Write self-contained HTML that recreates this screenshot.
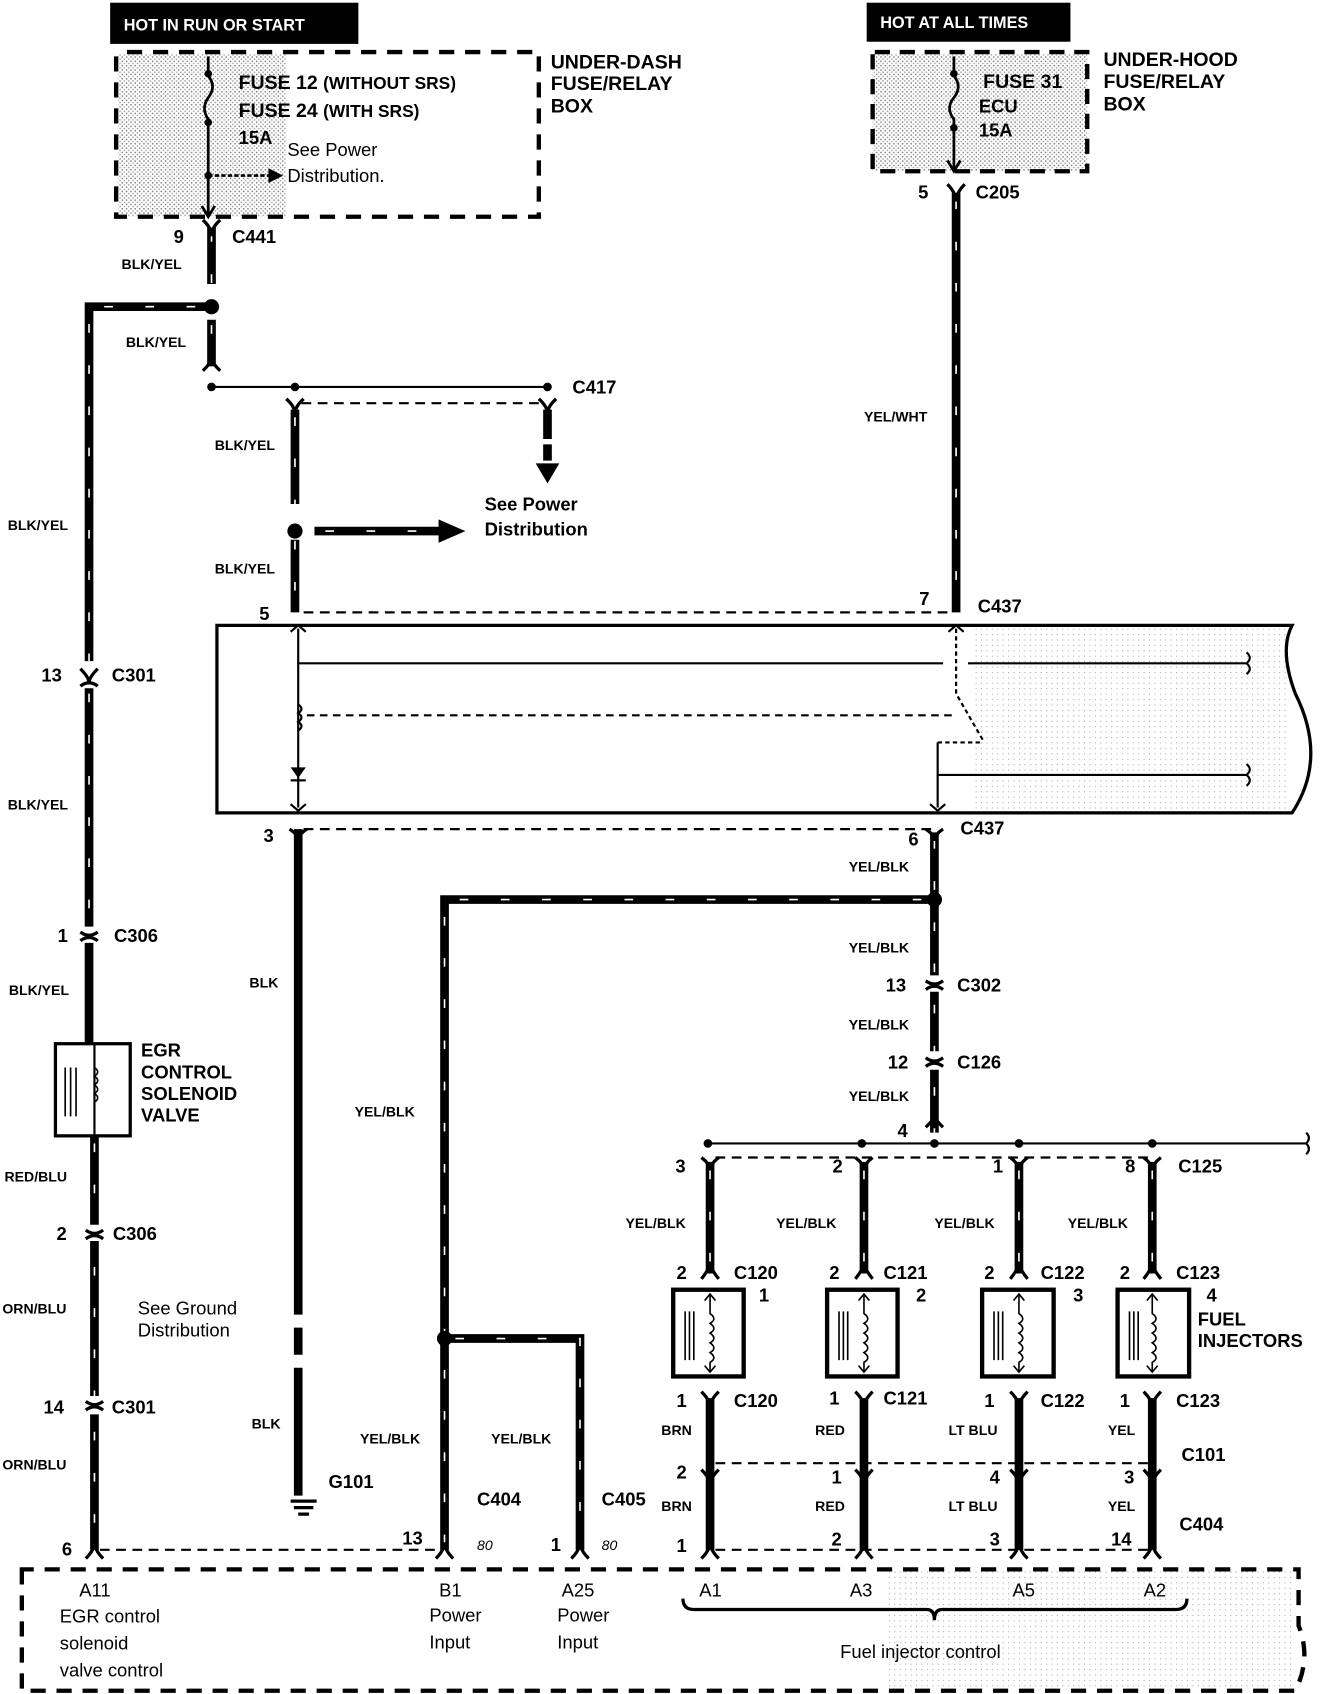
<!DOCTYPE html>
<html><head><meta charset="utf-8"><style>
html,body{margin:0;padding:0;background:#fff;}
svg{display:block;}
text{font-family:"Liberation Sans",sans-serif;font-weight:bold;fill:#000;}
.s{font-size:13px;}
.m{font-size:17px;}
.l{font-size:18px;}
</style></head><body>
<svg width="1328" height="1694" viewBox="0 0 1225 1563" xmlns="http://www.w3.org/2000/svg">
<defs>
<pattern id="dots" width="4" height="4" patternUnits="userSpaceOnUse"><rect width="4" height="4" fill="#fff"/><rect width="1.3" height="1.3" fill="#777"/><rect x="2" y="2" width="1.3" height="1.3" fill="#999"/></pattern>
<pattern id="dots2" width="5" height="5" patternUnits="userSpaceOnUse"><rect width="5" height="5" fill="#fff"/><rect width="1" height="1" fill="#aaa"/></pattern>
</defs>
<g fill="none" stroke="#000">
<rect x="102" y="3" width="228" height="37" fill="#000"/>
<rect x="800" y="3" width="187" height="35" fill="#000"/>
<rect x="109" y="50" width="155" height="150" fill="url(#dots)" stroke="none"/>
<rect x="805" y="50" width="198" height="108" fill="url(#dots)" stroke="none"/>
<rect x="900" y="580" width="290" height="168" fill="url(#dots2)" stroke="none"/>
<rect x="820" y="1448" width="375" height="112" fill="url(#dots2)" stroke="none"/>
<path d="M107 52 V200 H497 V48 H107" stroke-width="4" stroke-dasharray="14 10"/>
<path d="M805 50 V158 H1003 V48 H805" stroke-width="4" stroke-dasharray="14 9"/>
<path d="M20 1448 V1560 H1195 Q1210 1530 1198 1500 V1448 Z" stroke-width="4" stroke-dasharray="14 10"/>
<path d="M200 577 H1192 Q1180 600 1195 640 Q1225 700 1192 750 H200 Z" stroke-width="3"/>
<path d="M192 52 V70 Q200 80 192 90 Q185 100 192 110 V200" stroke-width="2.5"/>
<circle cx="192" cy="68" r="3" fill="#000"/><circle cx="192" cy="113" r="3" fill="#000"/><circle cx="192" cy="162" r="3" fill="#000"/>
<path d="M192 162 H248" stroke-width="2.5" stroke-dasharray="4 2"/><path d="M248 156 L260 162 L248 168 Z" fill="#000"/>
<path d="M186 190 L192 200 L198 190" stroke-width="2.5"/>
<path d="M880 52 V70 Q888 80 880 90 Q872 100 880 110 V158" stroke-width="2.5"/>
<circle cx="880" cy="68" r="3" fill="#000"/><circle cx="880" cy="118" r="3" fill="#000"/>
<path d="M874 148 L880 158 L886 148" stroke-width="2.5"/>
<g stroke-width="8">
<path d="M195 210 V262"/><path d="M195 295 V338"/>
<path d="M195 283 H82 V610"/><path d="M82 635 V855"/><path d="M82 870 V962"/><path d="M87 1048 V1130"/><path d="M87 1145 V1288"/><path d="M87 1305 V1430"/>
<path d="M882 178 V565"/>
<path d="M272 378 V465"/><path d="M272 498 V565"/>
<path d="M505 378 V405"/><path d="M505 410 V425"/>
<path d="M275 765 V1213"/><path d="M275 1225 V1250"/><path d="M275 1262 V1380"/>
<path d="M862 768 V900"/><path d="M862 915 V970"/><path d="M862 987 V1045"/>
<path d="M862 830 H410 V1430"/>
<path d="M410 1235 H535 V1430"/>
<path d="M655 1072 V1175"/><path d="M797 1072 V1175"/><path d="M940 1072 V1175"/><path d="M1063 1072 V1175"/>
<path d="M655 1290 V1430"/><path d="M797 1290 V1430"/><path d="M940 1290 V1430"/><path d="M1063 1290 V1430"/>
<path d="M290 490 H405"/>
</g>
<g stroke="#fff" stroke-width="1.5" stroke-dasharray="8 30">
<path d="M195 215 V262"/><path d="M195 300 V338"/><path d="M180 283 H82 V610"/><path d="M82 640 V855"/><path d="M87 1055 V1430"/><path d="M882 185 V565"/><path d="M272 385 V565"/><path d="M862 775 V1045"/><path d="M850 830 H410 V1430"/><path d="M420 1235 H535 V1430"/><path d="M655 1080 V1175"/><path d="M797 1080 V1175"/><path d="M940 1080 V1175"/><path d="M1063 1080 V1175"/><path d="M300 490 H405"/>
</g>
<path d="M405 480 L428 490 L405 500 Z" fill="#000"/>
<path d="M495 428 H515 L505 445 Z" fill="#000"/>
<g fill="#000" stroke="none">
<circle cx="195" cy="283" r="7"/><circle cx="272" cy="490" r="7"/><circle cx="862" cy="830" r="7"/><circle cx="410" cy="1235" r="7"/>
<circle cx="195" cy="357" r="4"/><circle cx="272" cy="357" r="4"/><circle cx="505" cy="357" r="4"/>
<circle cx="653" cy="1055" r="4"/><circle cx="795" cy="1055" r="4"/><circle cx="862" cy="1055" r="4"/><circle cx="940" cy="1055" r="4"/><circle cx="1063" cy="1055" r="4"/>
</g>
<path d="M195 357 H505" stroke-width="2"/>
<path d="M653 1055 H1205 q5 -5 0 -10 M1205 1055 q5 5 0 10" stroke-width="2"/>
<path d="M278 372 H500" stroke-width="2" stroke-dasharray="9 6"/>
<path d="M660 1068 H1060" stroke-width="2" stroke-dasharray="9 6"/>
<path d="M660 1350 H1060" stroke-width="2" stroke-dasharray="9 6"/>
<path d="M660 1430 H1060" stroke-width="2" stroke-dasharray="9 6"/>
<path d="M92 1430 H405" stroke-width="2" stroke-dasharray="9 6"/>
<path d="M280 765 H860" stroke-width="2" stroke-dasharray="9 6"/>
<path d="M280 565 H880" stroke-width="2" stroke-dasharray="9 6"/>
<g stroke-width="3">
<path d="M187 203 Q195 210 195 218 Q195 210 203 203"/><path d="M187 342 Q195 335 195 328 Q195 335 203 342"/>
<path d="M264 368 Q272 375 272 382 Q272 375 280 368"/><path d="M497 368 Q505 375 505 382 Q505 375 513 368"/>
<path d="M874 170 Q882 178 882 186 Q882 178 890 170"/>
<path d="M74 617 Q82 625 82 630 Q82 625 90 617"/><path d="M74 633 Q82 627 90 633"/>
<path d="M74 860 Q82 866 90 860"/><path d="M74 868 Q82 862 90 868"/>
<path d="M79 1135 Q87 1141 95 1135"/><path d="M79 1143 Q87 1137 95 1143"/>
<path d="M79 1293 Q87 1299 95 1293"/><path d="M79 1301 Q87 1295 95 1301"/>
<path d="M79 1438 Q87 1430 87 1423 Q87 1430 95 1438"/>
<path d="M267 765 Q275 770 275 776 Q275 770 283 765"/>
<path d="M854 765 Q862 770 862 776 Q862 770 870 765"/>
<path d="M854 905 Q862 911 870 905"/><path d="M854 913 Q862 907 870 913"/>
<path d="M854 976 Q862 982 870 976"/><path d="M854 984 Q862 978 870 984"/>
<path d="M854 1040 Q862 1033 862 1028 Q862 1033 870 1040"/>
<path d="M402 1438 Q410 1430 410 1423 Q410 1430 418 1438"/><path d="M527 1438 Q535 1430 535 1423 Q535 1430 543 1438"/>
</g>
<g stroke-width="3">
<path d="M647 1068 Q655 1074 655 1080 Q655 1074 663 1068"/><path d="M789 1068 Q797 1074 797 1080 Q797 1074 805 1068"/><path d="M932 1068 Q940 1074 940 1080 Q940 1074 948 1068"/><path d="M1055 1068 Q1063 1074 1063 1080 Q1063 1074 1071 1068"/>
<path d="M647 1180 Q655 1170 655 1165 Q655 1170 663 1180"/><path d="M789 1180 Q797 1170 797 1165 Q797 1170 805 1180"/><path d="M932 1180 Q940 1170 940 1165 Q940 1170 948 1180"/><path d="M1055 1180 Q1063 1170 1063 1165 Q1063 1170 1071 1180"/>
<path d="M647 1284 Q655 1292 655 1298 Q655 1292 663 1284"/><path d="M789 1284 Q797 1292 797 1298 Q797 1292 805 1284"/><path d="M932 1284 Q940 1292 940 1298 Q940 1292 948 1284"/><path d="M1055 1284 Q1063 1292 1063 1298 Q1063 1292 1071 1284"/>
<path d="M647 1356 Q655 1364 655 1370 Q655 1364 663 1356"/><path d="M789 1356 Q797 1364 797 1370 Q797 1364 805 1356"/><path d="M932 1356 Q940 1364 940 1370 Q940 1364 948 1356"/><path d="M1055 1356 Q1063 1364 1063 1370 Q1063 1364 1071 1356"/>
<path d="M647 1438 Q655 1430 655 1423 Q655 1430 663 1438"/><path d="M789 1438 Q797 1430 797 1423 Q797 1430 805 1438"/><path d="M932 1438 Q940 1430 940 1423 Q940 1430 948 1438"/><path d="M1055 1438 Q1063 1430 1063 1423 Q1063 1430 1071 1438"/>
</g>
<g stroke-width="4" fill="#fff">
<rect x="621" y="1190" width="65" height="80"/><rect x="763" y="1190" width="65" height="80"/><rect x="906" y="1190" width="66" height="80"/><rect x="1031" y="1190" width="66" height="80"/>
</g>
<g stroke-width="1.5">
<path d="M632 1210 V1255 M636 1210 V1255 M640 1210 V1255 M774 1210 V1255 M778 1210 V1255 M782 1210 V1255 M917 1210 V1255 M921 1210 V1255 M925 1210 V1255 M1042 1210 V1255 M1046 1210 V1255 M1050 1210 V1255"/>
<path d="M655 1194 V1212 q7 5 0 9 q7 5 0 9 q7 5 0 9 q7 5 0 9 q7 5 0 9 V1266"/>
<path d="M797 1194 V1212 q7 5 0 9 q7 5 0 9 q7 5 0 9 q7 5 0 9 q7 5 0 9 V1266"/>
<path d="M940 1194 V1212 q7 5 0 9 q7 5 0 9 q7 5 0 9 q7 5 0 9 q7 5 0 9 V1266"/>
<path d="M1063 1194 V1212 q7 5 0 9 q7 5 0 9 q7 5 0 9 q7 5 0 9 q7 5 0 9 V1266"/>
<path d="M650 1200 L655 1194 L660 1200 M650 1260 L655 1266 L660 1260 M792 1200 L797 1194 L802 1200 M792 1260 L797 1266 L802 1260 M935 1200 L940 1194 L945 1200 M935 1260 L940 1266 L945 1260 M1058 1200 L1063 1194 L1068 1200 M1058 1260 L1063 1266 L1068 1260"/>
</g>
<rect x="51" y="963" width="69" height="85" stroke-width="3"/>
<path d="M87 963 V1048" stroke-width="2"/>
<path d="M60 985 V1030 M65 985 V1030 M70 985 V1030" stroke-width="1.5"/>
<path d="M87 985 q6 4 0 8 q6 4 0 8 q6 4 0 8 q6 4 0 8" stroke-width="1.5"/>
<g stroke-width="2">
<path d="M275 580 V745"/>
<path d="M275 612 H870 M893 612 H1150 q6 -5 0 -10 M1150 612 q6 5 0 10"/>
<path d="M865 715 H1150 q6 -5 0 -10 M1150 715 q6 5 0 10"/>
<path d="M865 685 V745"/>
<path d="M275 650 q6 4 0 8 q6 4 0 8 q6 4 0 8"/>
<path d="M283 660 H880" stroke-dasharray="7 5"/>
<path d="M882 580 V640 L908 685" stroke-dasharray="4 3"/>
<path d="M865 685 H905" stroke-dasharray="4 3"/>
<path d="M268 583 L275 577 L282 583 M268 742 L275 748 L282 742 M858 742 L865 748 L872 742 M875 583 L882 577 L889 583"/>
</g>
<path d="M268 708 H282 L275 718 Z" fill="#000" stroke="none"/><path d="M268 720 H282" stroke-width="2"/>
<g stroke-width="3"><path d="M268 1385 H292 M271 1391 H289 M275 1397 H285"/></g>
<path d="M630 1475 Q630 1485 640 1485 H855 Q862 1485 862 1495 Q862 1485 869 1485 H1085 Q1095 1485 1095 1475" stroke-width="3"/>
</g>
<text x="114" y="28" style="fill:#fff;font-size:15px">HOT IN RUN OR START</text>
<text x="812" y="26" style="fill:#fff;font-size:15px">HOT AT ALL TIMES</text>
<text x="220" y="82" class="l">FUSE 12 <tspan font-size="16">(WITHOUT SRS)</tspan></text>
<text x="220" y="108" class="l">FUSE 24 <tspan font-size="16">(WITH SRS)</tspan></text>
<text x="220" y="133" class="m">15A</text>
<text x="265" y="144" class="m" style="font-weight:normal">See Power</text>
<text x="265" y="168" class="m" style="font-weight:normal">Distribution.</text>
<text x="508" y="63" class="l">UNDER-DASH</text><text x="508" y="83" class="l">FUSE/RELAY</text><text x="508" y="104" class="l">BOX</text>
<text x="907" y="81" class="l">FUSE 31</text><text x="903" y="104" class="m">ECU</text><text x="903" y="126" class="m">15A</text>
<text x="1018" y="61" class="l">UNDER-HOOD</text><text x="1018" y="81" class="l">FUSE/RELAY</text><text x="1018" y="102" class="l">BOX</text>
<g class="m">
<text x="160" y="224">9</text><text x="214" y="224">C441</text>
<text x="528" y="363">C417</text>
<text x="847" y="183">5</text><text x="900" y="183">C205</text>
<text x="447" y="471">See Power</text><text x="447" y="494">Distribution</text>
<text x="239" y="572">5</text><text x="848" y="558">7</text><text x="902" y="565">C437</text>
<text x="38" y="629">13</text><text x="103" y="629">C301</text>
<text x="243" y="777">3</text><text x="838" y="780">6</text><text x="886" y="770">C437</text>
<text x="53" y="869">1</text><text x="105" y="869">C306</text>
<text x="130" y="975">EGR</text><text x="130" y="995">CONTROL</text><text x="130" y="1015">SOLENOID</text><text x="130" y="1035">VALVE</text>
<text x="52" y="1144">2</text><text x="104" y="1144">C306</text>
<text x="40" y="1304">14</text><text x="103" y="1304">C301</text>
<text x="57" y="1435">6</text>
<text x="817" y="915">13</text><text x="883" y="915">C302</text>
<text x="819" y="986">12</text><text x="883" y="986">C126</text>
<text x="828" y="1049">4</text>
<text x="623" y="1082">3</text><text x="768" y="1082">2</text><text x="916" y="1082">1</text><text x="1038" y="1082">8</text><text x="1087" y="1082">C125</text>
<text x="624" y="1180">2</text><text x="677" y="1180">C120</text><text x="765" y="1180">2</text><text x="815" y="1180">C121</text><text x="908" y="1180">2</text><text x="960" y="1180">C122</text><text x="1033" y="1180">2</text><text x="1085" y="1180">C123</text>
<text x="700" y="1201">1</text><text x="845" y="1201">2</text><text x="990" y="1201">3</text><text x="1113" y="1201">4</text>
<text x="1105" y="1223">FUEL</text><text x="1105" y="1243">INJECTORS</text>
<text x="624" y="1298">1</text><text x="677" y="1298">C120</text><text x="765" y="1296">1</text><text x="815" y="1296">C121</text><text x="908" y="1298">1</text><text x="960" y="1298">C122</text><text x="1033" y="1298">1</text><text x="1085" y="1298">C123</text>
<text x="1090" y="1348">C101</text>
<text x="624" y="1364">2</text><text x="767" y="1369">1</text><text x="913" y="1369">4</text><text x="1037" y="1369">3</text>
<text x="1088" y="1412">C404</text>
<text x="624" y="1432">1</text><text x="767" y="1426">2</text><text x="913" y="1426">3</text><text x="1025" y="1426">14</text>
<text x="303" y="1373">G101</text><text x="440" y="1389">C404</text><text x="555" y="1389">C405</text>
<text x="371" y="1425">13</text><text x="508" y="1431">1</text>
</g>
<g class="s">
<text x="112" y="248">BLK/YEL</text><text x="116" y="320">BLK/YEL</text><text x="198" y="415">BLK/YEL</text><text x="198" y="529">BLK/YEL</text>
<text x="7" y="489">BLK/YEL</text><text x="7" y="747">BLK/YEL</text><text x="8" y="918">BLK/YEL</text>
<text x="797" y="389">YEL/WHT</text><text x="783" y="804">YEL/BLK</text><text x="783" y="879">YEL/BLK</text><text x="783" y="950">YEL/BLK</text><text x="783" y="1016">YEL/BLK</text>
<text x="4" y="1090">RED/BLU</text><text x="2" y="1212">ORN/BLU</text><text x="2" y="1356">ORN/BLU</text>
<text x="230" y="911">BLK</text><text x="232" y="1318">BLK</text><text x="327" y="1030">YEL/BLK</text>
<text x="332" y="1332">YEL/BLK</text><text x="453" y="1332">YEL/BLK</text>
<text x="577" y="1133">YEL/BLK</text><text x="716" y="1133">YEL/BLK</text><text x="862" y="1133">YEL/BLK</text><text x="985" y="1133">YEL/BLK</text>
<text x="610" y="1324">BRN</text><text x="752" y="1324">RED</text><text x="875" y="1324">LT BLU</text><text x="1022" y="1324">YEL</text>
<text x="610" y="1394">BRN</text><text x="752" y="1394">RED</text><text x="875" y="1394">LT BLU</text><text x="1022" y="1394">YEL</text>
<text x="440" y="1430" style="font-style:italic;font-weight:normal">80</text><text x="555" y="1430" style="font-style:italic;font-weight:normal">80</text>
</g>
<g class="m">
<text x="127" y="1213" style="font-weight:normal">See Ground</text><text x="127" y="1233" style="font-weight:normal">Distribution</text>
<text x="73" y="1473" style="font-weight:normal">A11</text><text x="55" y="1497" style="font-weight:normal">EGR control</text><text x="55" y="1522" style="font-weight:normal">solenoid</text><text x="55" y="1547" style="font-weight:normal">valve control</text>
<text x="405" y="1473" style="font-weight:normal">B1</text><text x="396" y="1496" style="font-weight:normal">Power</text><text x="396" y="1521" style="font-weight:normal">Input</text>
<text x="518" y="1473" style="font-weight:normal">A25</text><text x="514" y="1496" style="font-weight:normal">Power</text><text x="514" y="1521" style="font-weight:normal">Input</text>
<text x="645" y="1473" style="font-weight:normal">A1</text><text x="784" y="1473" style="font-weight:normal">A3</text><text x="934" y="1473" style="font-weight:normal">A5</text><text x="1055" y="1473" style="font-weight:normal">A2</text>
<text x="775" y="1530" style="font-weight:normal">Fuel injector control</text>
</g>
</svg>
</body></html>
